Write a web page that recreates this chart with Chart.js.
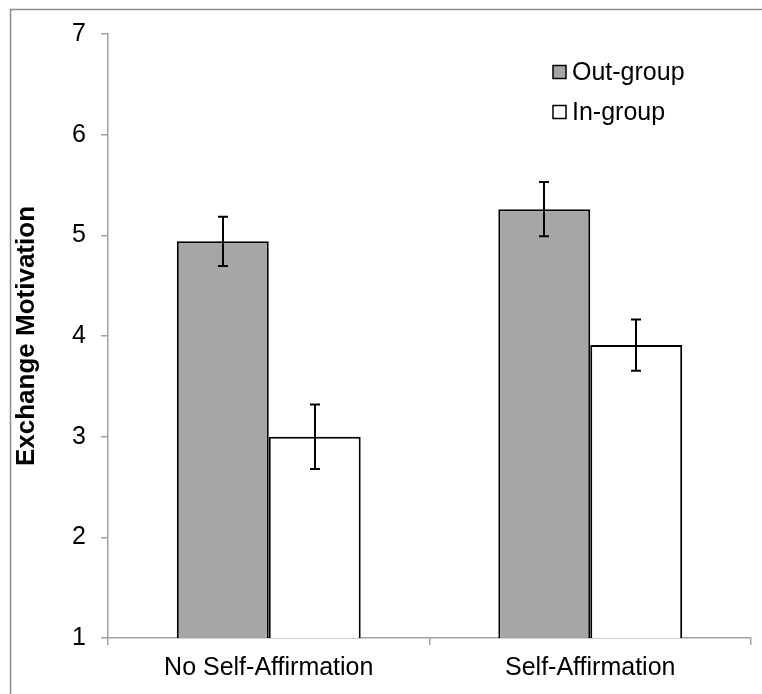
<!DOCTYPE html>
<html>
<head>
<meta charset="utf-8">
<script src="https://cdn.jsdelivr.net/npm/chart.js@4"></script>
<style>
  html, body { margin: 0; padding: 0; background: #ffffff; }
  #wrap { width: 762px; height: 694px; position: relative; }
</style>
</head>
<body>
<div id="wrap"><canvas id="chart" width="762" height="694"></canvas></div>
<script>
// Group means and standard errors for exchange motivation
const categories = ['No Self-Affirmation', 'Self-Affirmation'];
const seriesNames = ['Out-group', 'In-group'];
const outGroupMeans = [4.94, 5.26];
const inGroupMeans = [3.00, 3.91];
const outGroupErrors = [0.245, 0.27];
const inGroupErrors = [0.32, 0.255];
const yTickValues = [1, 2, 3, 4, 5, 6, 7];

const FONT = "'Liberation Sans', Arial, sans-serif";
const AXIS_GRAY = '#a0a0a0';
const errorSets = [outGroupErrors, inGroupErrors];

// Draws +/- error whiskers on each bar using the value scale
const errorBarPlugin = {
  id: 'errorBars',
  afterDatasetsDraw(chart) {
    const ctx = chart.ctx;
    const yScale = chart.scales.y;
    ctx.save();
    ctx.strokeStyle = '#000000';
    ctx.lineWidth = 2;
    chart.data.datasets.forEach((ds, i) => {
      const meta = chart.getDatasetMeta(i);
      meta.data.forEach((bar, j) => {
        const v = ds.data[j];
        const e = errorSets[i][j];
        const x = Math.round(bar.x);
        const yTop = yScale.getPixelForValue(v + e);
        const yBot = yScale.getPixelForValue(v - e);
        ctx.beginPath();
        ctx.moveTo(x, yTop); ctx.lineTo(x, yBot);
        ctx.moveTo(x - 5, yTop); ctx.lineTo(x + 5, yTop);
        ctx.moveTo(x - 5, yBot); ctx.lineTo(x + 5, yBot);
        ctx.stroke();
      });
    });
    ctx.restore();
  }
};

// Legend drawn inside the plot, top right, stacked vertically
const insideLegendPlugin = {
  id: 'insideLegend',
  afterDraw(chart) {
    const ctx = chart.ctx;
    const area = chart.chartArea;
    ctx.save();
    ctx.font = '25px ' + FONT;
    ctx.textBaseline = 'middle';
    ctx.textAlign = 'left';
    const boxX = area.left + 445;
    const rows = [72, 112];
    chart.data.datasets.forEach((ds, i) => {
      const cy = rows[i];
      ctx.fillStyle = ds.backgroundColor;
      ctx.fillRect(boxX, cy - 6.5, 13, 13);
      ctx.strokeStyle = '#000000';
      ctx.lineWidth = 1.5;
      ctx.strokeRect(boxX, cy - 6.5, 13, 13);
      ctx.fillStyle = '#000000';
      ctx.fillText(ds.label, boxX + 19, cy + 1);
    });
    ctx.restore();
  }
};

// Thin frame around the figure
const framePlugin = {
  id: 'frame',
  beforeDraw(chart) {
    const ctx = chart.ctx;
    ctx.save();
    ctx.fillStyle = '#ffffff';
    ctx.fillRect(0, 0, chart.width, chart.height);
    ctx.strokeStyle = '#8c8c8c';
    ctx.lineWidth = 1.5;
    ctx.beginPath();
    ctx.moveTo(10.5, chart.height + 5);
    ctx.lineTo(10.5, 9.5);
    ctx.lineTo(chart.width + 5, 9.5);
    ctx.stroke();
    ctx.restore();
  }
};

new Chart(document.getElementById('chart'), {
  type: 'bar',
  data: {
    labels: categories,
    datasets: [
      {
        label: seriesNames[0],
        data: outGroupMeans,
        backgroundColor: '#a6a6a6',
        borderColor: '#000000',
        borderWidth: 2,
        borderSkipped: false,
        categoryPercentage: 0.572,
        barPercentage: 1.0
      },
      {
        label: seriesNames[1],
        data: inGroupMeans,
        backgroundColor: '#ffffff',
        borderColor: '#000000',
        borderWidth: 2,
        borderSkipped: false,
        categoryPercentage: 0.572,
        barPercentage: 1.0
      }
    ]
  },
  options: {
    responsive: false,
    devicePixelRatio: 1,
    animation: false,
    layout: { padding: { left: 0, right: 11, top: 34, bottom: 0 } },
    plugins: {
      legend: { display: false },
      tooltip: { enabled: false },
      title: { display: false }
    },
    scales: {
      x: {
        offset: true,
        afterFit(scale) { scale.height = 56; },
        grid: {
          offset: true,
          drawOnChartArea: false,
          drawTicks: true,
          tickLength: 7,
          color: AXIS_GRAY,
          lineWidth: 1.5
        },
        border: { color: AXIS_GRAY, width: 1.5 },
        ticks: {
          color: '#000000',
          font: { family: FONT, size: 25 },
          padding: 8,
          maxRotation: 0
        }
      },
      y: {
        min: 1,
        max: 7,
        afterFit(scale) { scale.width = 108; },
        afterBuildTicks(scale) {
          scale.ticks = yTickValues.map(v => ({ value: v }));
        },
        grid: {
          drawOnChartArea: false,
          drawTicks: true,
          tickLength: 7,
          color: AXIS_GRAY,
          lineWidth: 1.5
        },
        border: { color: AXIS_GRAY, width: 1.5 },
        ticks: {
          color: '#000000',
          font: { family: FONT, size: 25 },
          padding: 15
        },
        title: {
          display: true,
          text: 'Exchange Motivation',
          color: '#000000',
          font: { family: FONT, size: 26, weight: 'bold' },
          padding: { top: 11, bottom: 0 }
        }
      }
    }
  },
  plugins: [framePlugin, errorBarPlugin, insideLegendPlugin]
});
</script>
</body>
</html>
